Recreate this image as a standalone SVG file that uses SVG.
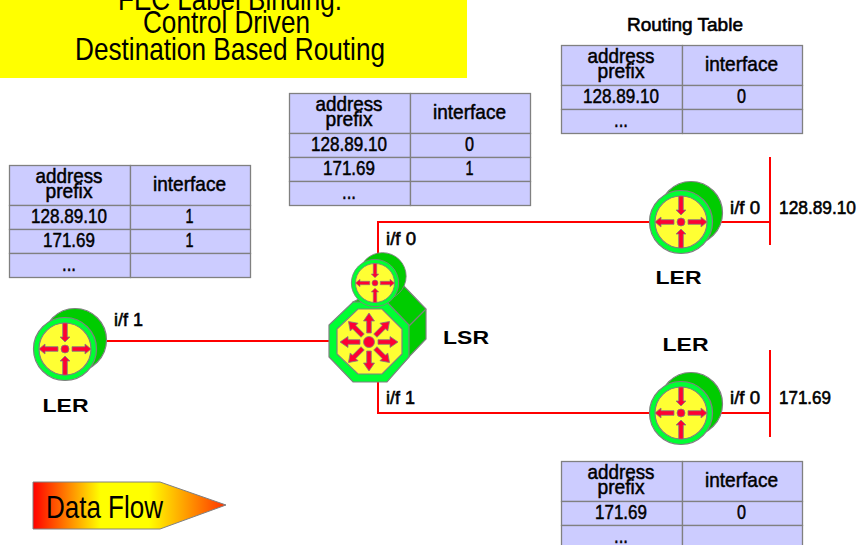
<svg xmlns="http://www.w3.org/2000/svg" width="859" height="545" viewBox="0 0 859 545">
<style>
text{font-family:"Liberation Sans",Arial,sans-serif;fill:#000;text-anchor:middle}
.t{font-size:21px;stroke:#000;stroke-width:.5px}
.l{font-size:19px;font-weight:normal;text-anchor:start;stroke:#000;stroke-width:.6px}
.n{font-size:18px;font-weight:bold}
.h{font-size:32px}
.cell{fill:#ccccff;stroke:#808080;stroke-width:1.3}
.wire{fill:none;stroke:#ff0000;stroke-width:2}
.e{stroke:#808080;stroke-width:1.2}
.ar{fill:#ff0033;stroke:#808080;stroke-width:.8}
</style>
<defs>
<linearGradient id="flow" x1="0" y1="0" x2="1" y2="0">
<stop offset="0" stop-color="#ff0000"/><stop offset=".35" stop-color="#ffff00"/><stop offset=".6" stop-color="#ffff00"/><stop offset="1" stop-color="#ff3300"/>
</linearGradient>
<path id="out" class="ar" d="M7 -2.3H20V-5L26 0L20 5V2.300H7Z"/>
<path id="in" class="ar" d="M26 -2.3H12V-5L7 0L12 5V2.300H26Z"/>
<g id="router">
<circle cx="10" cy="-9" r="31.5" fill="#00cc00" class="e"/>
<circle cx="0" cy="0" r="31.5" fill="#00ff33" class="e"/>
<circle cx="0" cy="0" r="26" fill="#ffff33" class="e"/>
<use href="#out"/><use href="#out" transform="rotate(180)"/>
<use href="#in" transform="rotate(90)"/><use href="#in" transform="rotate(-90)"/>
<circle cx="0" cy="0" r="4" fill="#ff0033" stroke="#808080" stroke-width=".8"/>
</g>
<g id="tbl">
<rect class="cell" x="0.500" y="0.500" width="121" height="40"/><rect class="cell" x="121.500" y="0.500" width="120" height="40"/>
<rect class="cell" x="0.500" y="40.500" width="121" height="24"/><rect class="cell" x="121.500" y="40.500" width="120" height="24"/>
<rect class="cell" x="0.500" y="64.500" width="121" height="24"/><rect class="cell" x="121.500" y="64.500" width="120" height="24"/>
</g>
<g id="head">
<text class="t" x="60" y="18" textLength="67" lengthAdjust="spacingAndGlyphs">address</text><text class="t" x="60" y="33" textLength="47" lengthAdjust="spacingAndGlyphs">prefix</text><text class="t" x="180.500" y="26" textLength="73" lengthAdjust="spacingAndGlyphs">interface</text>
</g>
<text id="a1" class="t" x="60" y="58" textLength="76" lengthAdjust="spacingAndGlyphs">128.89.10</text>
<text id="b1" class="t" x="60" y="58" textLength="52" lengthAdjust="spacingAndGlyphs">171.69</text>
<text id="b2" class="t" x="60" y="82" textLength="52" lengthAdjust="spacingAndGlyphs">171.69</text>
</defs>

<g id="connectors">
<path class="wire" d="M100 341H335"/>
<path class="wire" d="M378 255V222H655"/>
<path class="wire" d="M378 380V413H655"/>
<path class="wire" d="M715 222H770"/>
<path class="wire" d="M715 413H770"/>
<path class="wire" d="M770 157V245"/>
<path class="wire" d="M770 350V437"/>
</g>

<g id="title">
<rect x="0" y="0" width="467" height="78" fill="#ffff00"/>
<text class="h" x="230" y="10" textLength="224" lengthAdjust="spacingAndGlyphs">FEC Label Binding:</text>
<text class="h" x="226.500" y="33" textLength="167" lengthAdjust="spacingAndGlyphs">Control Driven</text>
<text class="h" x="230" y="60" textLength="310" lengthAdjust="spacingAndGlyphs">Destination Based Routing</text>
</g>

<g id="table-ler-left" transform="translate(9 165)">
<use href="#tbl"/><rect class="cell" x="0.500" y="88.500" width="121" height="24"/><rect class="cell" x="121.500" y="88.500" width="120" height="24"/>
<use href="#head"/>
<use href="#a1"/><text class="t" x="180.500" y="58" textLength="8" lengthAdjust="spacingAndGlyphs">1</text>
<use href="#b2"/><text class="t" x="180.500" y="82" textLength="8" lengthAdjust="spacingAndGlyphs">1</text>
<text class="t" x="60" y="106" textLength="14" lengthAdjust="spacingAndGlyphs">...</text>
</g>

<g id="table-lsr" transform="translate(289 93)">
<use href="#tbl"/><rect class="cell" x="0.500" y="88.500" width="121" height="24"/><rect class="cell" x="121.500" y="88.500" width="120" height="24"/>
<use href="#head"/>
<use href="#a1"/><text class="t" x="180.500" y="58" textLength="9" lengthAdjust="spacingAndGlyphs">0</text>
<use href="#b2"/><text class="t" x="180.500" y="82" textLength="8" lengthAdjust="spacingAndGlyphs">1</text>
<text class="t" x="60" y="106" textLength="14" lengthAdjust="spacingAndGlyphs">...</text>
</g>

<g id="table-ler-top" transform="translate(561 45)">
<use href="#tbl"/>
<use href="#head"/>
<use href="#a1"/><text class="t" x="180.500" y="58" textLength="9" lengthAdjust="spacingAndGlyphs">0</text>
<text class="t" x="60" y="82" textLength="14" lengthAdjust="spacingAndGlyphs">...</text>
</g>
<text class="l" x="627" y="31" textLength="116" lengthAdjust="spacingAndGlyphs">Routing Table</text>

<g id="table-ler-bottom" transform="translate(561 461)">
<use href="#tbl"/>
<use href="#head"/>
<use href="#b1"/><text class="t" x="180.500" y="58" textLength="9" lengthAdjust="spacingAndGlyphs">0</text>
<text class="t" x="60" y="82" textLength="14" lengthAdjust="spacingAndGlyphs">...</text>
</g>

<g id="ler-left"><use href="#router" x="65" y="349"/></g>
<g id="ler-top"><use href="#router" x="681" y="222"/></g>
<g id="ler-bottom"><use href="#router" x="681" y="413"/></g>

<g id="lsr">
<path d="M353 302L386 285H403L426 309V339L386 381Z" fill="#00cc00" class="e"/>
<path d="M409 326L426 309" class="e" fill="none"/>
<path d="M353 302H387L409 325V357L387 382H353L329 357V325Z" fill="#00ff33" class="e"/>
<path d="M358 309H382L402 329V354L382 374H358L337 354V329Z" fill="#ffff33" class="e"/>
<g transform="translate(369 342)">
<circle r="5.500" fill="#ff0033" stroke="#808080" stroke-width=".8"/>
<path id="spoke" class="ar" d="M9 -2.3H21V-5.500L29 0L21 5.500V2.300H9Z"/>
<use href="#spoke" transform="rotate(45)"/><use href="#spoke" transform="rotate(90)"/><use href="#spoke" transform="rotate(135)"/><use href="#spoke" transform="rotate(180)"/><use href="#spoke" transform="rotate(225)"/><use href="#spoke" transform="rotate(270)"/><use href="#spoke" transform="rotate(315)"/>
</g>
<g transform="translate(375 283) scale(.75)"><use href="#router"/></g>
</g>

<g id="data-flow">
<path d="M33 482H160L226 505L160 529H33Z" fill="url(#flow)" stroke="#808080" stroke-width="1"/>
<text x="104.500" y="518" style="font-size:32px" textLength="117" lengthAdjust="spacingAndGlyphs">Data Flow</text>
</g>

<g id="labels">
<text class="l" x="114" y="326" textLength="29" lengthAdjust="spacingAndGlyphs">i/f 1</text>
<text class="l" x="386" y="245" textLength="30" lengthAdjust="spacingAndGlyphs">i/f 0</text>
<text class="l" x="386" y="404" textLength="29" lengthAdjust="spacingAndGlyphs">i/f 1</text>
<text class="l" x="730" y="214" textLength="30" lengthAdjust="spacingAndGlyphs">i/f 0</text>
<text class="l" x="730" y="404" textLength="30" lengthAdjust="spacingAndGlyphs">i/f 0</text>
<text class="l" x="779" y="214" textLength="77" lengthAdjust="spacingAndGlyphs">128.89.10</text>
<text class="l" x="779" y="404" textLength="52" lengthAdjust="spacingAndGlyphs">171.69</text>
<text class="n" x="65.500" y="412" textLength="46" lengthAdjust="spacingAndGlyphs">LER</text>
<text class="n" x="678.500" y="284" textLength="46" lengthAdjust="spacingAndGlyphs">LER</text>
<text class="n" x="685.500" y="351" textLength="46" lengthAdjust="spacingAndGlyphs">LER</text>
<text class="n" x="466" y="344" textLength="46" lengthAdjust="spacingAndGlyphs">LSR</text>
</g>
</svg>
